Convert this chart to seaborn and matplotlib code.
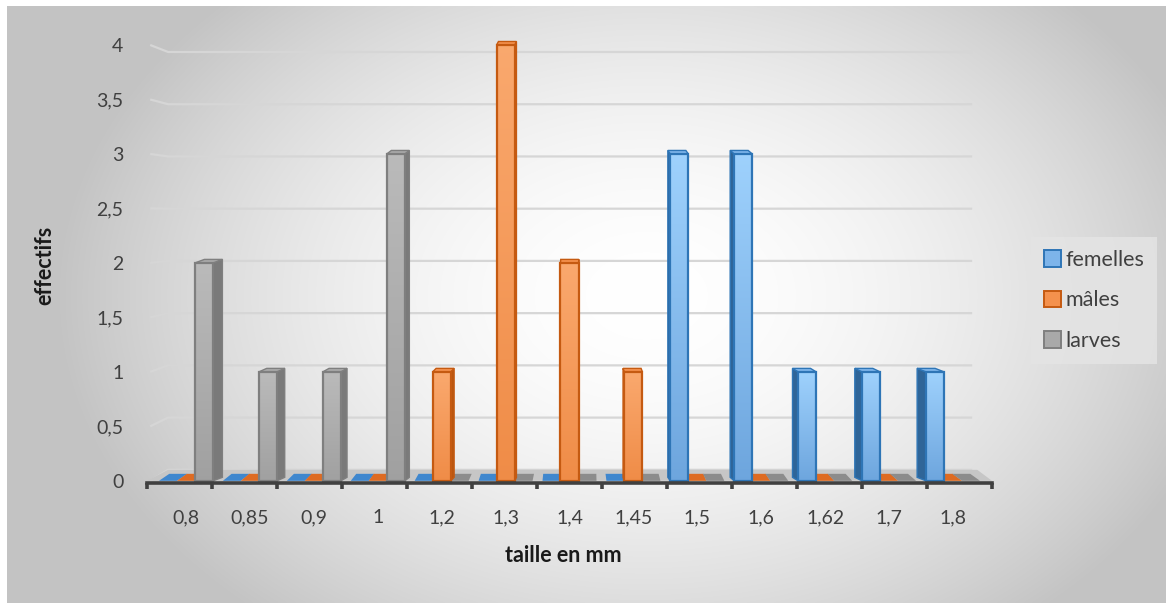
import numpy as np
import pandas as pd
import matplotlib
matplotlib.use("Agg")
import matplotlib.pyplot as plt
import seaborn as sns
from matplotlib.patches import Polygon, Patch

# ---- data -------------------------------------------------------------
tailles = ["0,8", "0,85", "0,9", "1", "1,2", "1,3", "1,4", "1,45",
           "1,5", "1,6", "1,62", "1,7", "1,8"]
femelles = [0, 0, 0, 0, 0, 0, 0, 0, 3, 3, 1, 1, 1]
males = [0, 0, 0, 0, 1, 4, 2, 1, 0, 0, 0, 0, 0]
larves = [2, 1, 1, 3, 0, 0, 0, 0, 0, 0, 0, 0, 0]
groupes = ["femelles", "mâles", "larves"]
y_ticks = [0, 0.5, 1, 1.5, 2, 2.5, 3, 3.5, 4]
y_tick_labels = ["0", "0,5", "1", "1,5", "2", "2,5", "3", "3,5", "4"]

df = pd.DataFrame({
    "taille": tailles * 3,
    "effectif": femelles + males + larves,
    "groupe": np.repeat(groupes, len(tailles)),
})

# ---- styles -----------------------------------------------------------
face = {"femelles": "#7DB4EA", "mâles": "#F4914D", "larves": "#A9A9A9"}
edge = {"femelles": "#2E75B6", "mâles": "#C55A11", "larves": "#7F7F7F"}
side = {"femelles": "#2F6598", "mâles": "#B9560F", "larves": "#7A7A7A"}
slab = {"femelles": "#3F87CE", "mâles": "#DE6B22", "larves": "#8C8C8C"}
grad = {
    "femelles": ((0.62, 0.82, 0.99), (0.43, 0.65, 0.87)),
    "mâles": ((0.98, 0.66, 0.43), (0.94, 0.55, 0.28)),
    "larves": ((0.73, 0.73, 0.73), (0.63, 0.63, 0.63)),
}
text_col = "#404040"

sns.set_theme(style="white")
plt.rcParams["font.family"] = ["Lato", "DejaVu Sans"]

W, H = 1166, 603
fig = plt.figure(figsize=(W / 100, H / 100), dpi=100)
fig.patch.set_facecolor("white")

# radial background of the chart area
bg = fig.add_axes([7 / W, 0, 1 - 7 / W, 1 - 6 / H], zorder=-10)
gx, gy = np.meshgrid(np.linspace(0, W - 7, 600), np.linspace(0, H - 6, 320))
r = np.sqrt(((gx - 640) / 600) ** 2 + ((gy - 290) / 430) ** 2)
val = np.clip(1 - 0.24 * r ** 1.8, 0.765, 1)
bg.imshow(np.dstack([val, val, val]), extent=(0, 1, 0, 1), aspect="auto",
          interpolation="bilinear")
bg.set_axis_off()

# ---- main axes --------------------------------------------------------
x_lo, x_hi = -0.61, 12.61
y_lo, y_hi = -0.02, 4.15
ax = fig.add_axes([147 / W, (H - 483) / H, 845 / W, (483 - 28.65) / H])
ax.patch.set_alpha(0)

sns.barplot(data=df, x="taille", y="effectif", hue="groupe",
            palette=face, hue_order=groupes, order=tailles, width=0.845,
            saturation=1, errorbar=None, legend=False, ax=ax, zorder=3)
ax.set_xlim(x_lo, x_hi)
ax.set_ylim(y_lo, y_hi)

# back wall and floor (slightly receding)
def back(v):
    return 0.1009 + 0.9587 * v

wall_l, wall_r = -0.28, 12.3
for v in y_ticks:
    ax.plot([x_lo + 0.05, wall_l, wall_r], [v, back(v), back(v)],
            color="#D6D6D6", lw=1.6, zorder=1, solid_capstyle="butt")
floor = Polygon([(x_lo, 0), (x_hi, 0), (wall_r + 0.08, back(0)),
                 (wall_l, back(0))], closed=True, facecolor="#C6C6C6",
                edgecolor="none", zorder=1.5)
ax.add_patch(floor)

# pseudo-3D faces built from each bar
to_disp = ax.transData
to_data = ax.transData.inverted()
vp_x = 580.0
k = 0.025
for grp, cont in zip(groupes, ax.containers):
    for rect in cont:
        x0, w, h = rect.get_x(), rect.get_width(), rect.get_height()
        (px0, py0), (px1, py1) = to_disp.transform([(x0, 0), (x0 + w, h)])
        dx = k * (vp_x - (px0 + px1) / 2)
        if h == 0:
            dy = 7.0
            poly = [(px0, py0), (px1, py0), (px1 + dx, py0 + dy), (px0 + dx, py0 + dy)]
            ax.add_patch(Polygon(to_data.transform(poly), closed=True,
                                 facecolor=slab[grp], edgecolor="none", zorder=2.5))
            rect.set_linewidth(0)
            continue
        dy = 3.5
        xs = px1 if dx > 0 else px0
        side_poly = [(xs, py0), (xs, py1), (xs + dx, py1 + dy), (xs + dx, py0 + dy)]
        top_poly = [(px0, py1), (px1, py1), (px1 + dx, py1 + dy), (px0 + dx, py1 + dy)]
        ax.add_patch(Polygon(to_data.transform(side_poly), closed=True,
                             facecolor=side[grp], edgecolor=edge[grp], lw=1.0, zorder=2.6))
        ax.add_patch(Polygon(to_data.transform(top_poly), closed=True,
                             facecolor=face[grp], edgecolor=edge[grp], lw=1.0, zorder=2.6))
        c_top, c_bot = grad[grp]
        g = np.linspace(0, 1, 64)[:, None]
        img = np.array(c_top)[None, None, :] * (1 - g[..., None]) + \
            np.array(c_bot)[None, None, :] * g[..., None]
        im = ax.imshow(img, extent=(x0, x0 + w, 0, h), origin="upper",
                       aspect="auto", zorder=2.9, interpolation="bilinear")
        im.set_clip_path(rect)
        rect.set_facecolor("none")
        rect.set_edgecolor(edge[grp])
        rect.set_linewidth(1.6)
        rect.set_zorder(3.2)

ax.set_xlim(x_lo, x_hi)
ax.set_ylim(y_lo, y_hi)

# axes decoration
for s in ["left", "right", "top"]:
    ax.spines[s].set_visible(False)
ax.spines["bottom"].set_color("#404040")
ax.spines["bottom"].set_linewidth(2.6)
ax.spines["bottom"].set_zorder(4)
ax.set_xticks(range(len(tailles)))
ax.set_xticklabels(tailles)
ax.set_xticks(np.linspace(x_lo, x_hi, len(tailles) + 1), minor=True)
ax.tick_params(axis="x", which="major", length=0, pad=19, labelsize=14,
               labelcolor=text_col)
ax.tick_params(axis="x", which="minor", length=4, width=2.6, color="#404040",
               direction="out", bottom=True)
ax.set_yticks(y_ticks)
ax.set_yticklabels(y_tick_labels)
ax.tick_params(axis="y", length=0, pad=17, labelsize=14, labelcolor=text_col)
ax.set_xlabel("")
ax.set_ylabel("")
ax.grid(False)

fig.text(563 / W, 1 - 556 / H, "taille en mm", ha="center", va="center",
         fontsize=15.5, fontweight="bold", color="#1a1a1a")
fig.text(45 / W, 1 - 265 / H, "effectifs", ha="center", va="center",
         rotation=90, fontsize=15.5, fontweight="bold", color="#1a1a1a")

handles = [Patch(facecolor=face[g], edgecolor=edge[g], lw=1.4) for g in groupes]
leg = fig.legend(handles, groupes, loc="upper left",
                 bbox_to_anchor=(1031 / W, 1 - 237 / H), frameon=True,
                 fontsize=15.5, labelspacing=0.95, handlelength=0.8,
                 handleheight=0.8, handletextpad=0.2, borderpad=0.6,
                 borderaxespad=0)
leg.get_frame().set_facecolor("#E4E4E4")
leg.get_frame().set_alpha(0.85)
leg.get_frame().set_edgecolor("none")
leg.get_frame().set_boxstyle("square", pad=0)
for t in leg.get_texts():
    t.set_color(text_col)

fig.savefig("out.png", dpi=100)
